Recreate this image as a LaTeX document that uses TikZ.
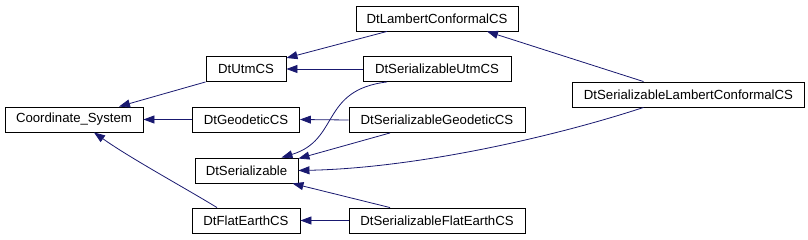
\documentclass[tikz,border=0pt]{standalone}
\usepackage{fontspec}
\setmainfont{Liberation Sans}
\usetikzlibrary{arrows.meta}
\definecolor{edgeblue}{HTML}{191970}
\begin{document}
\begin{tikzpicture}[x=1pt,y=-1pt,
  box/.style={draw=black,line width=0.9pt,fill=white,inner sep=0pt,minimum height=25pt,font=\fontsize{13.2}{15}\selectfont},
  inh/.style={draw=edgeblue,line width=0.8pt,-{Triangle[length=11pt,width=8pt]}}]
\useasboundingbox (0,0) rectangle (808,240);
\node[box,minimum width=138pt] (cs) at (74,119.5) {Coordinate\_System};
\node[box,minimum width=80pt] (utm) at (246,69) {DtUtmCS};
\node[box,minimum width=107pt] (geo) at (246,119.5) {DtGeodeticCS};
\node[box,minimum width=103pt] (ser) at (246.5,170.5) {DtSerializable};
\node[box,minimum width=108pt] (flat) at (246,220.5) {DtFlatEarthCS};
\node[box,minimum width=162pt] (lam) at (437,18.5) {DtLambertConformalCS};
\node[box,minimum width=148pt] (sutm) at (437,69) {DtSerializableUtmCS};
\node[box,minimum width=176pt] (sgeo) at (437,120) {DtSerializableGeodeticCS};
\node[box,minimum width=176pt] (sflat) at (437,220.5) {DtSerializableFlatEarthCS};
\node[box,minimum width=232pt] (slam) at (688.5,94.5) {DtSerializableLambertConformalCS};
\draw[inh] (utm.south west) -- ([xshift=45pt]cs.north);
\draw[inh] (geo.west) -- (cs.east);
\draw[inh] ([xshift=-29pt]flat.north) .. controls (185,188) and (130,158) .. ([xshift=20pt]cs.south);
\draw[inh] ([xshift=-50pt]lam.south) -- ([yshift=11pt]utm.east);
\draw[inh] (sutm.west) -- (utm.east);
\draw[inh] ([xshift=-50pt]sutm.south) .. controls (320,90) and (340,140) .. ([xshift=35pt]ser.north);
\draw[inh] (sgeo.west) -- (geo.east);
\draw[inh] ([xshift=-47pt]sgeo.south) -- ([yshift=-1pt]ser.north east);
\draw[inh] ([xshift=-45pt]slam.north) -- ([xshift=50pt]lam.south);
\draw[inh] ([xshift=-45pt]slam.south) .. controls (560,135) and (420,168) .. (ser.east);
\draw[inh] ([xshift=-47pt]sflat.north) -- ([xshift=-6pt]ser.south east);
\draw[inh] (sflat.west) -- (flat.east);
\end{tikzpicture}
\end{document}
